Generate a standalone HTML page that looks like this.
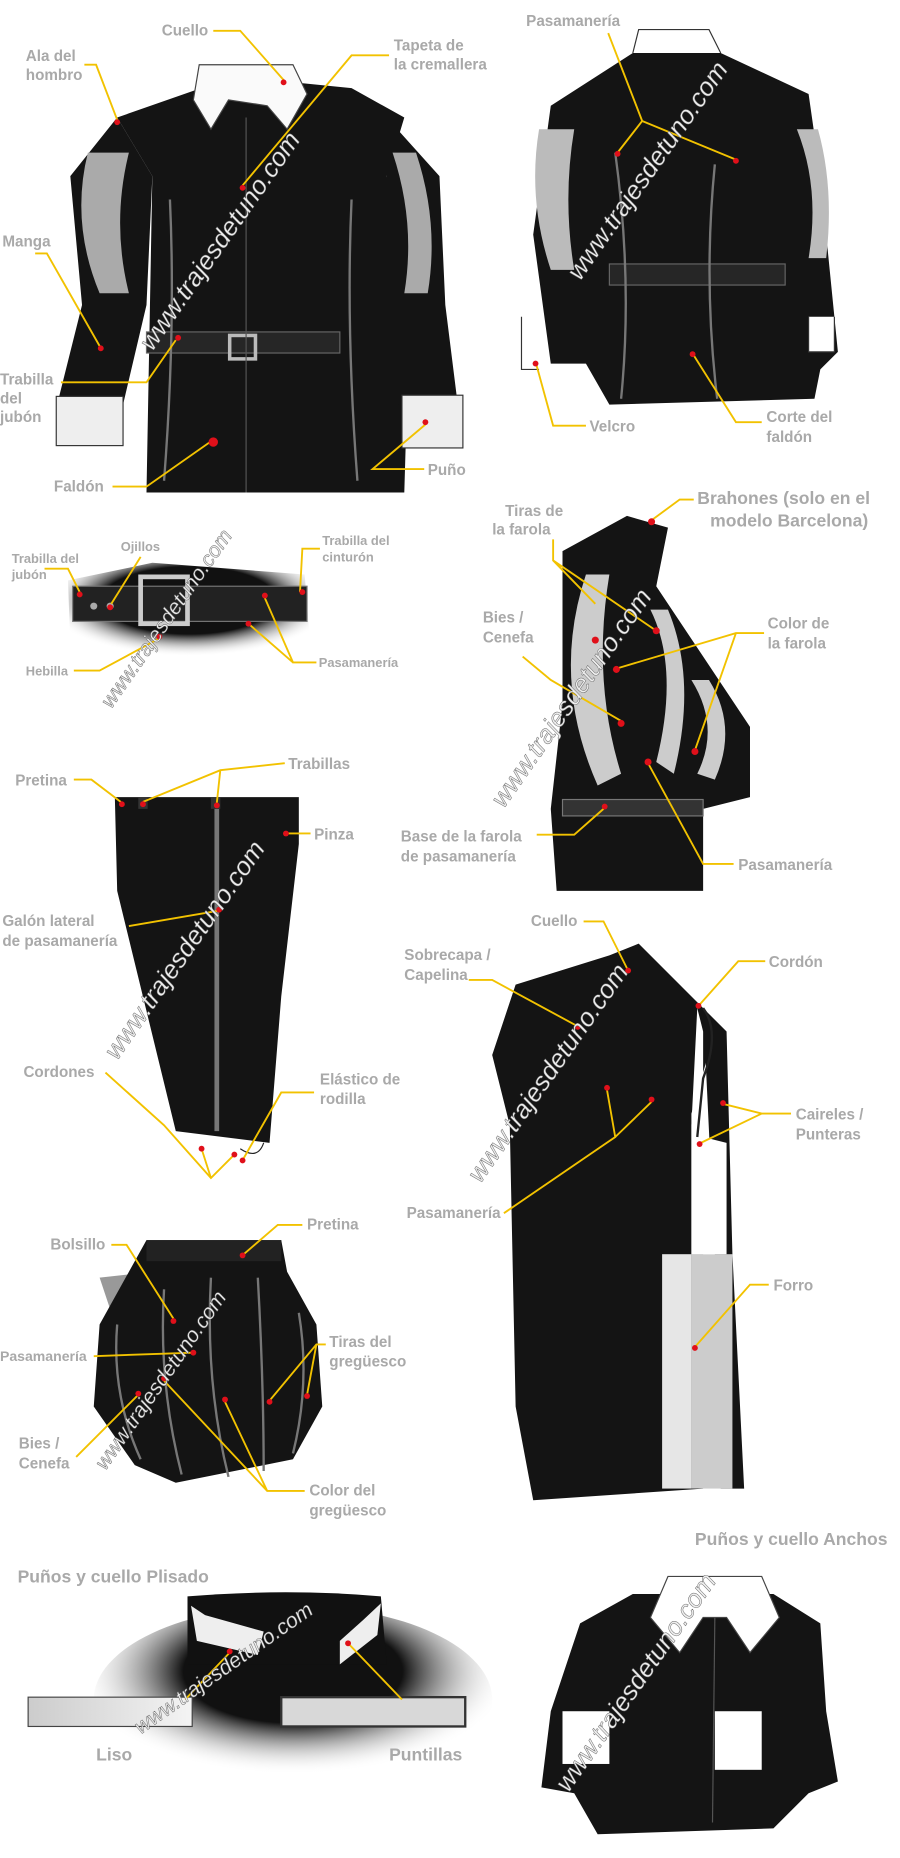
<!DOCTYPE html>
<html><head><meta charset="utf-8">
<style>
html,body{margin:0;padding:0;background:#fff;}
svg{display:block}
text{font-family:"Liberation Sans",sans-serif;font-weight:bold;fill:#a9a9a9;font-size:13px}
.l{stroke:#f2c200;stroke-width:1.6;fill:none}
.d{fill:#e0101a}
.blk{fill:#141414}
.trim{stroke:#777;stroke-width:2;fill:none}
.wm{fill:#eee;stroke:#666;stroke-width:0.4;font-size:22px;font-weight:normal;font-style:italic}
</style></head><body>
<svg width="900" height="1858" viewBox="0 0 768 1585" xmlns="http://www.w3.org/2000/svg">
<defs>
<radialGradient id="fade" cx="50%" cy="40%" r="60%"><stop offset="60%" stop-color="#111"/><stop offset="100%" stop-color="#fff" stop-opacity="0"/></radialGradient>
<radialGradient id="fade2" cx="50%" cy="35%" r="55%"><stop offset="50%" stop-color="#111"/><stop offset="100%" stop-color="#fff" stop-opacity="0"/></radialGradient>
<linearGradient id="grey" x1="0" x2="1"><stop offset="0" stop-color="#ccc"/><stop offset="1" stop-color="#f4f4f4"/></linearGradient>
</defs>

<!-- FRONT JACKET -->
<path class="blk" d="M100 100 L200 65 L300 75 L345 100 L330 150 L350 250 L345 420 L125 420 L130 150 Z"/>
<path class="blk" d="M100 100 L60 150 L70 260 L50 340 L105 345 L125 260 L130 150 Z"/>
<path class="blk" d="M330 100 L375 150 L380 260 L390 340 L340 345 L330 260 Z"/>
<path d="M75 130 Q60 190 85 250 L110 250 Q95 190 110 130Z" fill="#aaa"/>
<path d="M335 130 Q355 190 345 250 L365 250 Q375 190 355 130Z" fill="#aaa"/>
<rect x="48" y="338" width="57" height="42" fill="#eee" stroke="#333"/>
<rect x="343" y="337" width="52" height="45" fill="#eee" stroke="#333"/>
<path d="M170 55 L250 55 L262 80 L245 110 L228 90 L195 85 L180 110 L165 85Z" fill="#fafafa" stroke="#444"/>
<rect x="125" y="283" width="165" height="18" fill="#262626" stroke="#666"/>
<rect x="196" y="286" width="22" height="20" fill="none" stroke="#bbb" stroke-width="3"/>
<line x1="210" y1="100" x2="210" y2="420" stroke="#555"/>
<path class="trim" d="M145 170 Q150 280 140 410 M300 170 Q295 280 305 410"/>
<text x="138" y="30">Cuello</text><path class="l" d="M182 26 L205 26 L242 68"/><circle class="d" cx="242" cy="70" r="2.5"/>
<text x="336" y="43">Tapeta de</text><text x="336" y="59">la cremallera</text><path class="l" d="M332 47 L300 47 L207 158"/><circle class="d" cx="207" cy="160" r="2.5"/>
<text x="22" y="52">Ala del</text><text x="22" y="68">hombro</text><path class="l" d="M72 55 L82 55 L100 102"/><circle class="d" cx="100" cy="104" r="2.5"/>
<text x="2" y="210">Manga</text><path class="l" d="M30 216 L40 216 L85 295"/><circle class="d" cx="86" cy="297" r="2.5"/>
<text x="0" y="328">Trabilla</text><text x="0" y="344">del</text><text x="0" y="360">jubón</text><path class="l" d="M52 326 L125 326 L150 290"/><circle class="d" cx="152" cy="288" r="2.5"/>
<text x="46" y="419">Faldón</text><path class="l" d="M96 415 L125 415 L182 375"/><circle class="d" cx="182" cy="377" r="4"/>
<text x="365" y="405">Puño</text><path class="l" d="M362 400 L318 400 L363 362"/><circle class="d" cx="363" cy="360" r="2.5"/>
<text class="wm" transform="translate(130 300) rotate(-55)">www.trajesdetuno.com</text>

<!-- BACK JACKET -->
<path d="M540 45 L545 25 L605 25 L615 45" fill="#fff" stroke="#333"/>
<path class="blk" d="M470 90 L540 45 L615 45 L690 80 L700 150 L715 300 L700 315 L695 340 L520 345 L500 310 L470 310 L455 200 Z"/>
<path d="M460 110 Q450 170 470 230 L490 230 Q480 170 490 110Z" fill="#bbb"/>
<path d="M680 110 Q700 160 690 220 L705 220 Q712 160 698 110Z" fill="#bbb"/>
<rect x="520" y="225" width="150" height="18" fill="#262626" stroke="#666"/>
<path class="trim" d="M525 130 Q540 240 530 340 M610 140 Q600 240 612 340"/>
<path d="M445 270 L445 315 L460 315 M690 270 L690 300 L712 300 L712 270" fill="#fff" stroke="#333"/>
<text x="449" y="22">Pasamanería</text><path class="l" d="M519 28 L548 103 L527 130 M548 103 L628 136"/><circle class="d" cx="527" cy="131" r="2.5"/><circle class="d" cx="628" cy="137" r="2.5"/>
<text x="503" y="368">Velcro</text><path class="l" d="M500 363 L472 363 L458 312"/><circle class="d" cx="457" cy="310" r="2.5"/>
<text x="654" y="360">Corte del</text><text x="654" y="377">faldón</text><path class="l" d="M650 360 L628 360 L592 303"/><circle class="d" cx="591" cy="302" r="2.5"/>
<text class="wm" transform="translate(495 240) rotate(-55)">www.trajesdetuno.com</text>

<!-- BELT -->
<path d="M58 495 L130 480 L260 490 L265 555 L140 560 L60 550 Z" fill="url(#fade)"/>
<rect x="62" y="500" width="200" height="30" fill="#222" stroke="#777"/>
<rect x="120" y="492" width="40" height="40" fill="none" stroke="#ccc" stroke-width="4"/>
<circle cx="94" cy="517" r="3" fill="#aaa"/><circle cx="80" cy="517" r="3" fill="#aaa"/>
<text x="10" y="480" style="font-size:11px">Trabilla del</text><text x="10" y="494" style="font-size:11px">jubón</text><path class="l" d="M38 485 L58 485 L68 505"/><circle class="d" cx="68" cy="507" r="2.5"/>
<text x="103" y="470" style="font-size:11px">Ojillos</text><path class="l" d="M120 475 L95 515"/><circle class="d" cx="94" cy="518" r="2.5"/>
<text x="275" y="465" style="font-size:11px">Trabilla del</text><text x="275" y="479" style="font-size:11px">cinturón</text><path class="l" d="M273 468 L258 468 L256 505"/><circle class="d" cx="258" cy="505" r="2.5"/>
<text x="22" y="576" style="font-size:11px">Hebilla</text><path class="l" d="M63 572 L85 572 L135 545"/><circle class="d" cx="136" cy="543" r="2.5"/>
<text x="272" y="569" style="font-size:11px">Pasamanería</text><path class="l" d="M270 565 L250 565 L226 510 M250 565 L212 532"/><circle class="d" cx="226" cy="508" r="2.5"/><circle class="d" cx="212" cy="532" r="2.5"/>
<text class="wm" transform="translate(95 605) rotate(-55)" style="font-size:18px">www.trajesdetuno.com</text>

<!-- FAROLA -->
<path class="blk" d="M480 470 L535 440 L570 450 L560 500 L600 560 L640 620 L640 680 L600 690 L600 760 L475 760 L470 690 L480 600 Z"/>
<path d="M500 490 Q470 580 510 670 L530 660 Q505 580 520 490Z" fill="#ccc"/>
<path d="M555 520 Q580 570 560 650 L575 660 Q595 580 570 520Z" fill="#ccc"/>
<path d="M590 580 Q615 620 595 660 L610 665 Q630 620 605 580Z" fill="#ccc"/>
<rect x="480" y="682" width="120" height="14" fill="#333" stroke="#777"/>
<text x="595" y="430" style="font-size:15px">Brahones (solo en el</text><text x="606" y="449" style="font-size:15px">modelo Barcelona)</text><path class="l" d="M592 426 L580 426 L557 443"/><circle class="d" cx="556" cy="445" r="3"/>
<text x="431" y="440">Tiras de</text><text x="420" y="456">la farola</text><path class="l" d="M472 460 L472 478 L508 515 M472 478 L560 538"/><circle class="d" cx="508" cy="546" r="3"/><circle class="d" cx="560" cy="538" r="3"/>
<text x="412" y="531">Bies /</text><text x="412" y="548">Cenefa</text><path class="l" d="M446 560 L470 580 L530 615"/><circle class="d" cx="530" cy="617" r="3"/>
<text x="655" y="536">Color de</text><text x="655" y="553">la farola</text><path class="l" d="M652 540 L628 540 L527 570 M628 540 L593 640"/><circle class="d" cx="526" cy="571" r="3"/><circle class="d" cx="593" cy="641" r="3"/>
<text x="630" y="742">Pasamanería</text><path class="l" d="M626 737 L600 737 L553 651"/><circle class="d" cx="553" cy="650" r="3"/>
<text x="342" y="718">Base de la farola</text><text x="342" y="735">de pasamanería</text><path class="l" d="M458 712 L490 712 L515 690"/><circle class="d" cx="516" cy="688" r="2.5"/>
<text class="wm" transform="translate(430 690) rotate(-55)">www.trajesdetuno.com</text>

<!-- TROUSERS -->
<path class="blk" d="M98 680 L255 680 L255 720 L240 850 L230 975 L150 965 L100 760 Z"/>
<line x1="185" y1="690" x2="185" y2="965" stroke="#777" stroke-width="4"/>
<rect x="118" y="680" width="8" height="10" fill="#333"/><rect x="180" y="680" width="8" height="10" fill="#333"/>
<path d="M205 980 Q220 990 225 975" stroke="#222" fill="none"/>
<text x="13" y="670">Pretina</text><path class="l" d="M63 665 L78 665 L103 684"/><circle class="d" cx="104" cy="686" r="2.5"/>
<text x="246" y="656">Trabillas</text><path class="l" d="M243 651 L188 657 L122 684 M188 657 L185 685"/><circle class="d" cx="122" cy="686" r="2.5"/><circle class="d" cx="185" cy="687" r="2.5"/>
<text x="268" y="716">Pinza</text><path class="l" d="M265 711 L245 711"/><circle class="d" cx="244" cy="711" r="2.5"/>
<text x="2" y="790">Galón lateral</text><text x="2" y="807">de pasamanería</text><path class="l" d="M110 790 L186 777"/><circle class="d" cx="187" cy="776" r="2.5"/>
<text x="20" y="919">Cordones</text><path class="l" d="M90 915 L140 960 L180 1005 L200 985 M180 1005 L172 980"/><circle class="d" cx="172" cy="980" r="2.5"/><circle class="d" cx="200" cy="985" r="2.5"/>
<text x="273" y="925">Elástico de</text><text x="273" y="942">rodilla</text><path class="l" d="M268 932 L240 932 L208 988"/><circle class="d" cx="207" cy="990" r="2.5"/>
<text class="wm" transform="translate(100 905) rotate(-55)">www.trajesdetuno.com</text>

<!-- CAPE -->
<path class="blk" d="M520 815 L545 805 L600 860 L610 880 L590 950 L590 1070 L600 1070 L600 1270 L455 1280 L440 1200 L435 960 L420 900 L440 840 Z"/>
<path class="blk" d="M600 860 L620 880 L625 1070 L635 1270 L615 1270 L610 1070Z"/>
<rect x="590" y="1070" width="35" height="200" fill="#ccc"/>
<rect x="565" y="1070" width="25" height="200" fill="#e6e6e6"/>
<path d="M595 860 L600 880 L600 970 L620 975 L620 1070 L590 1070 L590 960 Z" fill="#fff"/>
<path d="M600 860 Q615 880 600 920 L595 970" stroke="#222" fill="none" stroke-width="2"/>
<text x="453" y="790">Cuello</text><path class="l" d="M498 786 L515 786 L535 826"/><circle class="d" cx="536" cy="828" r="2.5"/>
<text x="345" y="819">Sobrecapa /</text><text x="345" y="836">Capelina</text><path class="l" d="M400 836 L420 836 L492 875"/><circle class="d" cx="493" cy="876" r="2.5"/>
<text x="656" y="825">Cordón</text><path class="l" d="M653 820 L630 820 L597 857"/><circle class="d" cx="596" cy="858" r="2.5"/>
<text x="679" y="955">Caireles /</text><text x="679" y="972">Punteras</text><path class="l" d="M675 950 L650 950 L618 942 M650 950 L598 975"/><circle class="d" cx="617" cy="941" r="2.5"/><circle class="d" cx="597" cy="976" r="2.5"/>
<text x="347" y="1039">Pasamanería</text><path class="l" d="M430 1035 L525 970 L518 930 M525 970 L556 940"/><circle class="d" cx="518" cy="928" r="2.5"/><circle class="d" cx="556" cy="938" r="2.5"/>
<text x="660" y="1101">Forro</text><path class="l" d="M656 1096 L640 1096 L594 1148"/><circle class="d" cx="593" cy="1150" r="2.5"/>
<text class="wm" transform="translate(410 1010) rotate(-55)">www.trajesdetuno.com</text>

<!-- GREGUESCOS -->
<path d="M85 1090 L130 1085 L150 1100 L120 1130 L95 1120Z" fill="#999"/>
<path class="blk" d="M125 1058 L240 1058 L245 1085 L270 1130 L275 1200 L250 1245 L150 1265 L115 1250 L80 1200 L85 1130 Z"/>
<path class="trim" stroke="#888" stroke-width="5" d="M100 1130 Q95 1190 120 1245 M140 1100 Q135 1180 155 1258 M180 1090 Q175 1180 195 1260 M220 1090 Q225 1180 225 1255 M255 1120 Q265 1180 250 1240"/>
<rect x="125" y="1058" width="115" height="18" fill="#222"/>
<text x="43" y="1066">Bolsillo</text><path class="l" d="M95 1062 L108 1062 L148 1125"/><circle class="d" cx="148" cy="1127" r="2.5"/>
<text x="262" y="1049">Pretina</text><path class="l" d="M258 1045 L237 1045 L208 1070"/><circle class="d" cx="207" cy="1071" r="2.5"/>
<text x="0" y="1161" style="font-size:12px">Pasamanería</text><path class="l" d="M80 1157 L165 1154"/><circle class="d" cx="165" cy="1154" r="2.5"/>
<text x="281" y="1149">Tiras del</text><text x="281" y="1166">gregüesco</text><path class="l" d="M278 1147 L270 1147 L230 1195 M270 1147 L262 1190"/><circle class="d" cx="230" cy="1196" r="2.5"/><circle class="d" cx="262" cy="1191" r="2.5"/>
<text x="16" y="1236">Bies /</text><text x="16" y="1253">Cenefa</text><path class="l" d="M65 1243 L118 1190"/><circle class="d" cx="118" cy="1189" r="2.5"/>
<text x="264" y="1276">Color del</text><text x="264" y="1293">gregüesco</text><path class="l" d="M260 1272 L228 1272 L140 1178 M228 1272 L192 1196"/><circle class="d" cx="140" cy="1176" r="2.5"/><circle class="d" cx="192" cy="1194" r="2.5"/>
<text class="wm" transform="translate(90 1255) rotate(-55)" style="font-size:18px">www.trajesdetuno.com</text>

<!-- PLISADO -->
<text x="15" y="1350" style="font-size:15px">Puños y cuello Plisado</text>
<ellipse cx="250" cy="1450" rx="170" ry="80" fill="url(#fade2)"/>
<path d="M160 1362 Q245 1355 325 1362 L330 1420 L160 1420Z" fill="#111"/>
<path d="M163 1370 L168 1400 L220 1412 L225 1392 L175 1378Z" fill="#eee"/>
<path d="M325 1368 L322 1395 L290 1420 L290 1400 L310 1382Z" fill="#eee"/>
<rect x="24" y="1448" width="140" height="25" fill="url(#grey)" stroke="#444"/>
<rect x="240" y="1448" width="157" height="25" fill="#d8d8d8" stroke="#333" stroke-width="2"/>
<path class="l" d="M196 1410 L158 1450 M297 1402 L343 1450"/><circle class="d" cx="196" cy="1409" r="2.5"/><circle class="d" cx="297" cy="1402" r="2.5"/>
<text x="82" y="1502" style="font-size:15px">Liso</text>
<text x="332" y="1502" style="font-size:15px">Puntillas</text>
<text class="wm" transform="translate(120 1480) rotate(-35)" style="font-size:18px">www.trajesdetuno.com</text>

<!-- ANCHOS -->
<text x="593" y="1318" style="font-size:15px">Puños y cuello Anchos</text>
<path class="blk" d="M540 1360 L660 1360 L700 1385 L705 1460 L715 1520 L690 1530 L660 1560 L510 1565 L490 1530 L462 1525 L470 1460 L495 1385Z"/>
<path d="M650 1345 L665 1380 L640 1410 L620 1380 L600 1380 L580 1410 L555 1380 L570 1345Z" fill="#fff" stroke="#444"/>
<rect x="480" y="1460" width="40" height="45" fill="#fff"/>
<rect x="610" y="1460" width="40" height="50" fill="#fff"/>
<line x1="610" y1="1380" x2="608" y2="1555" stroke="#555"/>
<text class="wm" transform="translate(485 1530) rotate(-55)">www.trajesdetuno.com</text>
</svg>
</body></html>
